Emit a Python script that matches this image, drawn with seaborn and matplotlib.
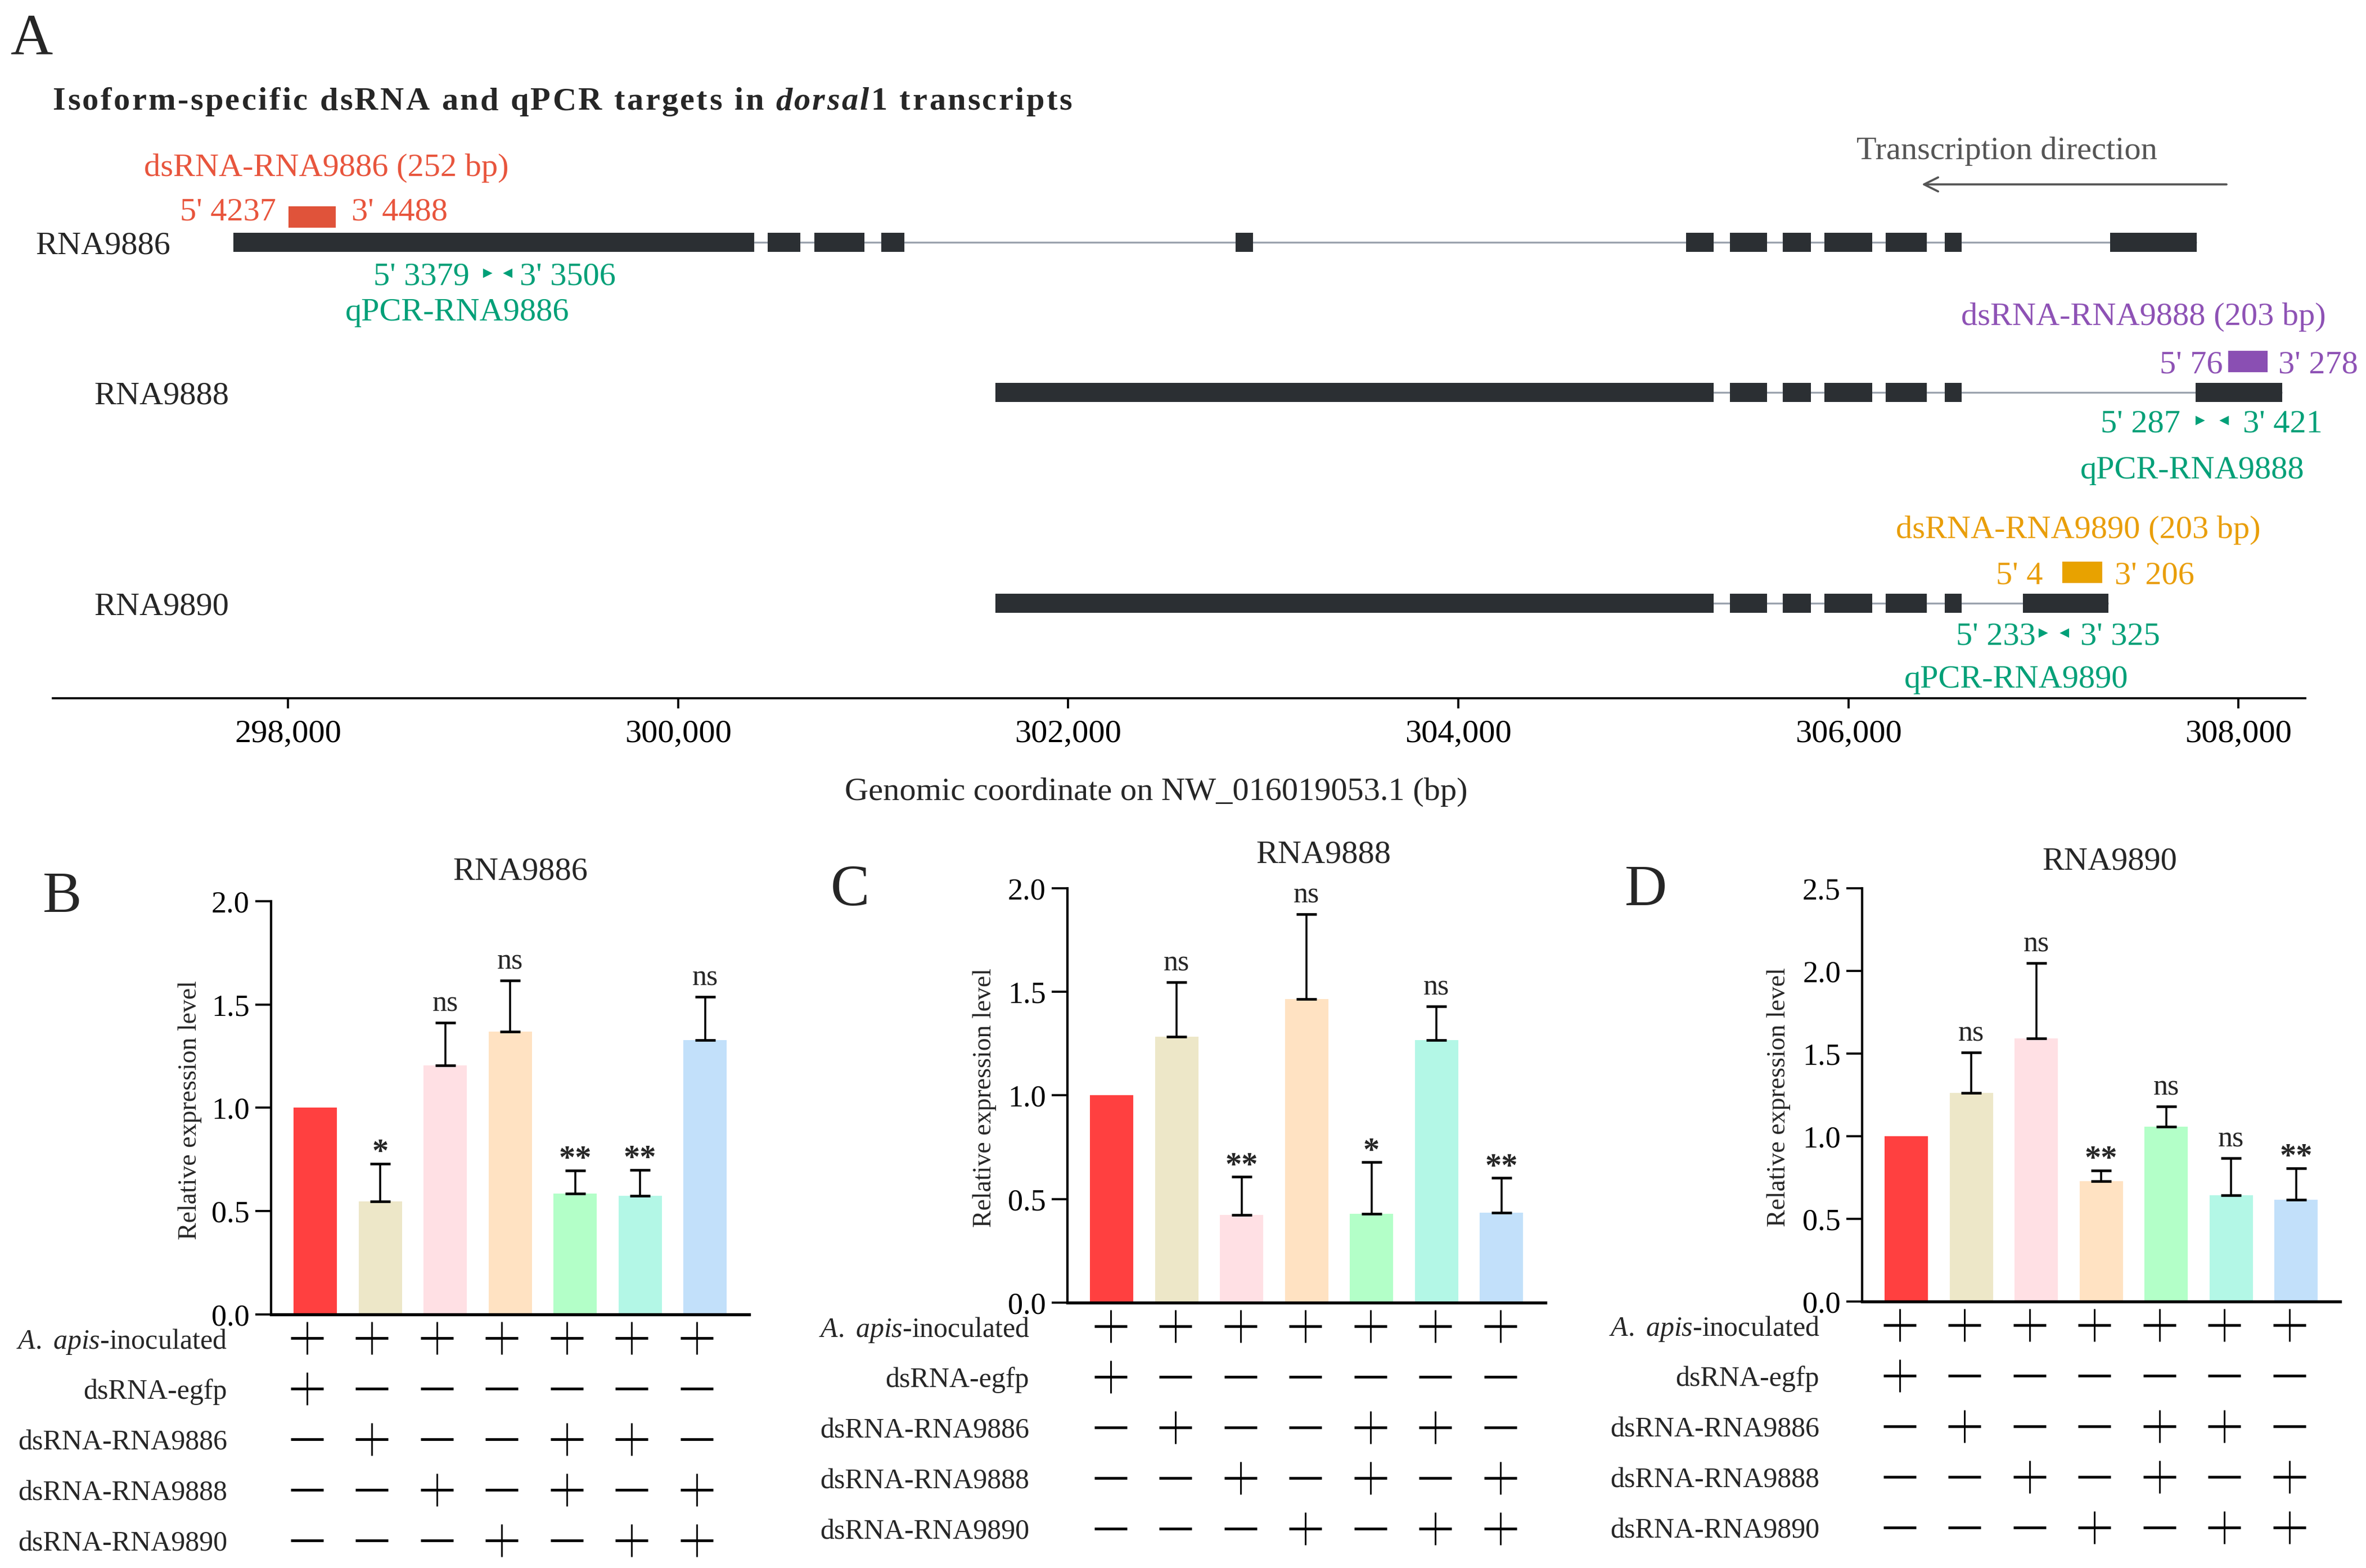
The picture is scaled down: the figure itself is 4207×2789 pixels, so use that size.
import numpy as np
import pandas as pd
import matplotlib
matplotlib.use("Agg")
import matplotlib.pyplot as plt
import seaborn as sns
from matplotlib.ticker import FuncFormatter

# ---------------- data: panel A (gene models, genomic bp) ----------------
transcripts = ["RNA9886", "RNA9888", "RNA9890"]
exons_9886 = [(297721, 300390), (300460, 300626), (300700, 300955), (301043, 301159),
              (302859, 302949), (305168, 305308), (305393, 305583), (305665, 305808),
              (305878, 306122), (306192, 306402), (306495, 306580), (307341, 307787)]
exons_9888 = [(301626, 305308), (305393, 305583), (305665, 305808), (305878, 306122),
              (306192, 306402), (306495, 306580), (307779, 308225)]
exons_9890 = [(301626, 305308), (305393, 305583), (305665, 305808), (305878, 306122),
              (306192, 306402), (306495, 306580), (306894, 307333)]
dsrna_regions = [(298004, 298246), (307946, 308148), (307098, 307300)]
dsrna_names = ["dsRNA-RNA9886 (252 bp)", "dsRNA-RNA9888 (203 bp)", "dsRNA-RNA9890 (203 bp)"]
dsrna_5p = ["5' 4237", "5' 76", "5' 4"]
dsrna_3p = ["3' 4488", "3' 278", "3' 206"]
qpcr_primers = [(299022, 299131), (307800, 307930), (306997, 307112)]
qpcr_names = ["qPCR-RNA9886", "qPCR-RNA9888", "qPCR-RNA9890"]
qpcr_5p = ["5' 3379", "5' 287", "5' 233"]
qpcr_3p = ["3' 3506", "3' 421", "3' 325"]
coord_ticks = [298000, 300000, 302000, 304000, 306000, 308000]
coord_range = (296795, 308343)
title_parts = [("Isoform-specific dsRNA and qPCR targets in ", "normal"),
               ("dorsal", "italic"), ("1 transcripts", "normal")]

# ---------------- data: panels B-D ----------------
groups = ["G1", "G2", "G3", "G4", "G5", "G6", "G7"]
treat_rows = ["$\\mathit{A.\\ apis}$-inoculated", "dsRNA-egfp", "dsRNA-RNA9886",
              "dsRNA-RNA9888", "dsRNA-RNA9890"]
treat_matrix = [[1, 1, 1, 1, 1, 1, 1],
                [1, 0, 0, 0, 0, 0, 0],
                [0, 1, 0, 0, 1, 1, 0],
                [0, 0, 1, 0, 1, 0, 1],
                [0, 0, 0, 1, 0, 1, 1]]

mean_9886 = [1.00, 0.547, 1.204, 1.369, 0.584, 0.575, 1.327]
err_9886 = [0.0, 0.183, 0.207, 0.247, 0.112, 0.124, 0.210]
sig_9886 = ["", "*", "ns", "ns", "**", "**", "ns"]

mean_9888 = [1.00, 1.284, 0.423, 1.465, 0.428, 1.266, 0.435]
err_9888 = [0.0, 0.263, 0.184, 0.410, 0.249, 0.163, 0.166]
sig_9888 = ["", "ns", "**", "ns", "*", "ns", "**"]

mean_9890 = [1.00, 1.261, 1.591, 0.728, 1.057, 0.643, 0.614]
err_9890 = [0.0, 0.246, 0.456, 0.065, 0.122, 0.225, 0.192]
sig_9890 = ["", "ns", "ns", "**", "ns", "ns", "**"]

bar_colors = ["#FF4040", "#EDE7C8", "#FFE0E4", "#FFE2C2", "#B3FFC8", "#B3F7E6", "#C2E0FA"]

# ---------------- style ----------------
W, H, DPI = 4207, 2789, 300
sns.set_theme(style="white")
plt.rcParams["font.family"] = ["Liberation Serif", "DejaVu Serif"]
plt.rcParams["mathtext.fontset"] = "custom"
plt.rcParams["mathtext.rm"] = "Liberation Serif"
plt.rcParams["mathtext.it"] = "Liberation Serif:italic"
plt.rcParams["mathtext.bfit"] = "Liberation Serif:italic:bold"

fig = plt.figure(figsize=((W + 0.3) / DPI, (H + 0.3) / DPI), dpi=DPI)
renderer = fig.canvas.get_renderer()


def fx(px):
    return px / W


def fy(py):
    return 1 - py / H


def ftext(x, y, s, **kw):
    kw.setdefault("va", "center_baseline")
    return fig.text(fx(x), fy(y), s, **kw)


def tracked_text(x0, y, parts, track_px, **kw):
    """Place text char by char with extra letter spacing (pixels)."""
    # width of a space in this font
    t1 = fig.text(0, 0, "x x", **kw)
    t2 = fig.text(0, 0, "xx", **kw)
    space_w = t1.get_window_extent(renderer).width - t2.get_window_extent(renderer).width
    t1.remove()
    t2.remove()
    x = x0
    for s, style in parts:
        for c in s:
            if c == " ":
                x += space_w + track_px
                continue
            t = ftext(x, y, c, ha="left", fontstyle=style, **kw)
            x += t.get_window_extent(renderer).width + track_px
    return x


GREEN = "#00A078"
EXON = "#2B2F33"
INTRON = "#9BA3AE"
ds_text_colors = ["#E8553D", "#8E52B5", "#E99E0A"]
ds_box_colors = ["#E0533A", "#8A4FB3", "#E8A200"]

# ---------------- panel A ----------------
axA = fig.add_axes([fx(94), fy(1242), (4099 - 94) / W, 1242 / H])
axA.set_xlim(*coord_range)
axA.set_ylim(1242, 0)
for s in ["top", "left", "right"]:
    axA.spines[s].set_visible(False)
axA.spines["bottom"].set_linewidth(0.9)
axA.spines["bottom"].set_color("black")
axA.set_yticks([])
axA.set_xticks(coord_ticks)
axA.xaxis.set_major_formatter(FuncFormatter(lambda v, p: f"{v:,.0f}"))
axA.tick_params(axis="x", direction="out", length=4.3, width=0.9, colors="black",
                labelsize=14, pad=4.5, bottom=True)

row_y = [431, 698, 1073]
exon_h = 34
box_dy = [-45, -55, -55]
box_h = 38
q_dy = [55, 50, 53]
all_exons = [exons_9886, exons_9888, exons_9890]
for k, ex in enumerate(all_exons):
    yc = row_y[k]
    gs = min(e[0] for e in ex)
    ge = max(e[1] for e in ex)
    axA.plot([gs, ge], [yc, yc], color=INTRON, lw=0.8, zorder=1, solid_capstyle="butt")
    axA.broken_barh([(s, e - s) for s, e in ex], (yc - exon_h / 2, exon_h),
                    facecolors=EXON, edgecolors="none", zorder=2)
    s, e = dsrna_regions[k]
    axA.broken_barh([(s, e - s)], (yc + box_dy[k] - box_h / 2, box_h),
                    facecolors=ds_box_colors[k], edgecolors="none", zorder=2)
    p5, p3 = qpcr_primers[k]
    axA.plot([p5], [yc + q_dy[k]], marker=">", ms=2.4, color=GREEN, mec=GREEN,
             ls="none", zorder=3)
    axA.plot([p3], [yc + q_dy[k]], marker="<", ms=2.4, color=GREEN, mec=GREEN,
             ls="none", zorder=3)

# texts for panel A
ftext(57, 60, "A", fontsize=25, ha="center")
tracked_text(94, 175, title_parts, 3.4, fontsize=14, fontweight="bold")
gene_lab_x = [63, 167, 167]
for k, name in enumerate(transcripts):
    ftext(gene_lab_x[k], row_y[k], name, fontsize=14, ha="left")
ds_lab_xy = [(580, 293), (3811, 558), (3695, 937)]
ds_5p_x = [491, 3952, 3632]
ds_3p_x = [625, 4051, 3760]
ds_pos_y = [371, 643, 1018]
q_y = [486, 748, 1126]
q_5p_x = [835, 3877, 3619]
q_3p_x = [924, 3988, 3699]
q_lab_xy = [(813, 550), (3898, 831), (3585, 1203)]
for k in range(3):
    ftext(*ds_lab_xy[k], dsrna_names[k], fontsize=14, ha="center", color=ds_text_colors[k])
    ftext(ds_5p_x[k], ds_pos_y[k], dsrna_5p[k], fontsize=14, ha="right", color=ds_text_colors[k])
    ftext(ds_3p_x[k], ds_pos_y[k], dsrna_3p[k], fontsize=14, ha="left", color=ds_text_colors[k])
    ftext(q_5p_x[k], q_y[k], qpcr_5p[k], fontsize=14, ha="right", color=GREEN)
    ftext(q_3p_x[k], q_y[k], qpcr_3p[k], fontsize=14, ha="left", color=GREEN)
    ftext(*q_lab_xy[k], qpcr_names[k], fontsize=14, ha="center", color=GREEN)

ftext(3568, 263, "Transcription direction", fontsize=14, ha="center", color="#555555")
axA.annotate("", xy=(3417, H - 328), xycoords="figure pixels",
             xytext=(3959, H - 328), textcoords="figure pixels",
             arrowprops=dict(arrowstyle="->,head_length=0.5,head_width=0.25",
                             color="#555555", lw=0.9, shrinkA=0, shrinkB=0))
ftext(2056, 1403, "Genomic coordinate on NW_016019053.1 (bp)", fontsize=14, ha="center")

# ---------------- panels B-D ----------------
panels = [
    dict(letter="B", title="RNA9886", means=mean_9886, errs=err_9886, sigs=sig_9886,
         left=482, y0=2338, ytop=1603, ymax=2.0, letter_xy=(111, 1586), title_xy=(925, 1544),
         ylab_x=338, tshift=-15, lab_right=404),
    dict(letter="C", title="RNA9888", means=mean_9888, errs=err_9888, sigs=sig_9888,
         left=1898, y0=2317, ytop=1580, ymax=2.0, letter_xy=(1511, 1574), title_xy=(2353, 1514),
         ylab_x=1751, tshift=-2, lab_right=1830),
    dict(letter="D", title="RNA9890", means=mean_9890, errs=err_9890, sigs=sig_9890,
         left=3311, y0=2315, ytop=1580, ymax=2.5, letter_xy=(2926, 1574), title_xy=(3751, 1526),
         ylab_x=3163, tshift=-12, lab_right=3235),
]
AXW = 850
XLIM = (-0.68, 6.68)
row_off = [42, 132, 222, 312, 402]

for P in panels:
    ax = fig.add_axes([fx(P["left"]), fy(P["y0"]), AXW / W, (P["y0"] - P["ytop"]) / H])
    df = pd.DataFrame({"group": groups, "value": P["means"]})
    sns.barplot(data=df, x="group", y="value", hue="group", palette=bar_colors,
                width=0.666, saturation=1, legend=False, errorbar=None,
                linewidth=0, edgecolor="none", ax=ax)
    ax.set_xlim(*XLIM)
    ax.set_ylim(0, P["ymax"])
    ax.set_xlabel("")
    ax.set_ylabel("")
    ax.set_xticks([])
    ticks = np.arange(0, P["ymax"] + 1e-9, 0.5)
    ax.set_yticks(ticks)
    ax.set_yticklabels([f"{t:.1f}" for t in ticks])
    for s in ["top", "right"]:
        ax.spines[s].set_visible(False)
    ax.spines["left"].set_linewidth(1.0)
    ax.spines["bottom"].set_linewidth(1.3)
    ax.spines["left"].set_color("black")
    ax.spines["bottom"].set_color("black")
    ax.tick_params(axis="y", direction="out", length=6.7, width=0.9, colors="black",
                   labelsize=13, pad=2.5, left=True)
    means = np.array(P["means"])
    errs = np.array(P["errs"])
    idx = np.where(errs > 0)[0]
    ax.errorbar(idx, means[idx], yerr=[np.zeros(len(idx)), errs[idx]], fmt="none",
                ecolor="black", elinewidth=0.85, capsize=4.4, capthick=1.1, zorder=5)
    for i, sg in enumerate(P["sigs"]):
        if not sg:
            continue
        top = means[i] + errs[i]
        if sg == "ns":
            ax.annotate(sg, xy=(i, top), xytext=(0, 5.0), textcoords="offset points",
                        ha="center", va="baseline", fontsize=12.5, annotation_clip=False)
        else:
            ax.annotate(sg, xy=(i, top), xytext=(0, 1.2), textcoords="offset points",
                        ha="center", va="baseline", fontsize=14, fontweight="bold",
                        annotation_clip=False)
    ftext(*P["letter_xy"], P["letter"], fontsize=25, ha="center")
    ftext(*P["title_xy"], P["title"], fontsize=14, ha="center")
    fig.text(fx(P["ylab_x"]), fy((P["y0"] + P["ytop"]) / 2 + 4), "Relative expression level",
             fontsize=11, rotation=90, ha="center", va="center")

    # treatment table
    tb = fig.add_axes([fx(P["left"] + P["tshift"]), fy(P["y0"] + 450), AXW / W, 450 / H])
    tb.set_xlim(*XLIM)
    tb.set_ylim(450, 0)
    tb.axis("off")
    mat = np.array(treat_matrix)
    for r in range(mat.shape[0]):
        xs = np.arange(mat.shape[1])
        ys = np.full(mat.shape[1], row_off[r])
        tb.plot(xs, ys, ls="none", marker="_", ms=13.7, mew=1.15, color="black")
        plus = mat[r] == 1
        tb.plot(xs[plus], ys[plus], ls="none", marker="|", ms=13.7, mew=0.7, color="black")
        ftext(P["lab_right"], P["y0"] + row_off[r], treat_rows[r], fontsize=12, ha="right")

fig.savefig("out.png", dpi=DPI)
